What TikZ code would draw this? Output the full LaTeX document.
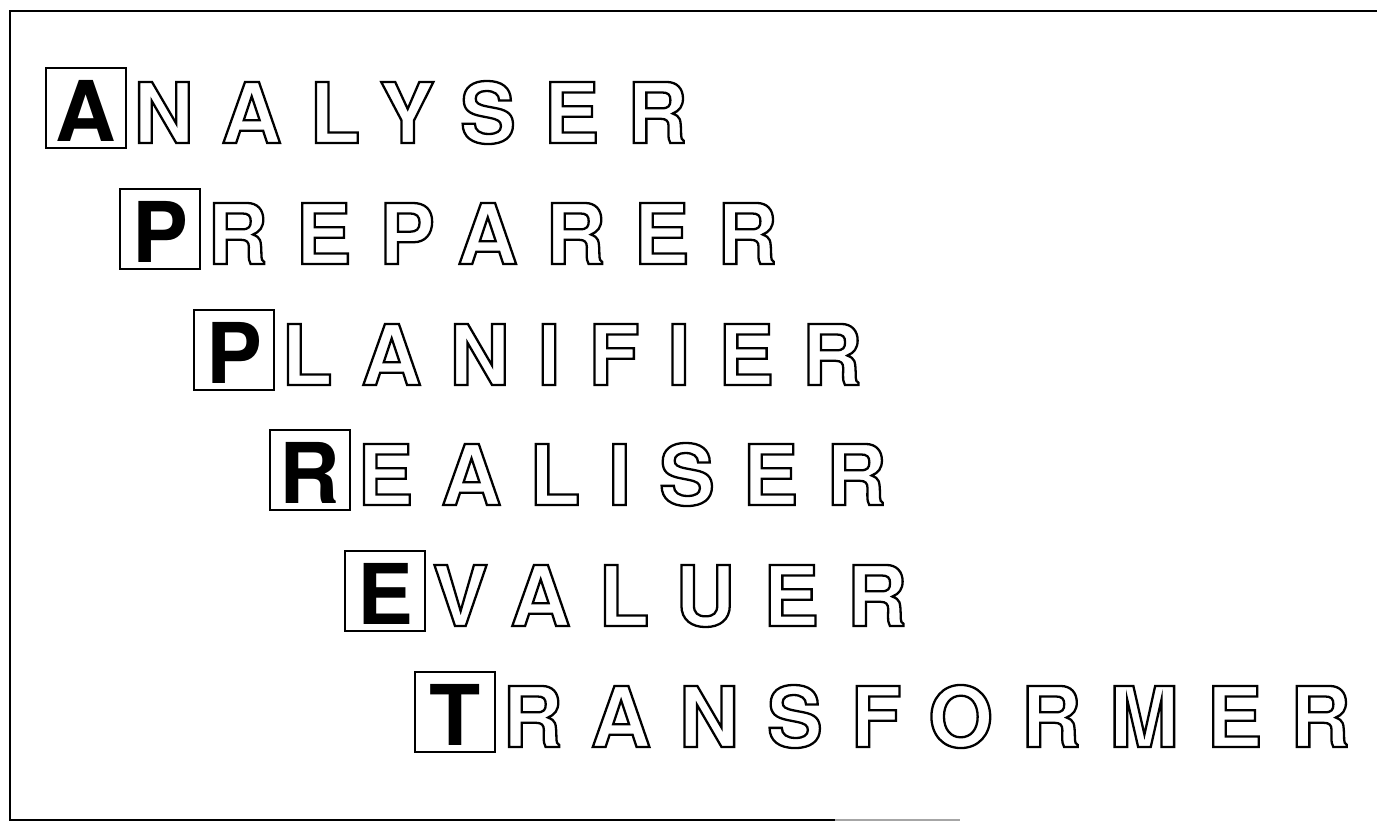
\documentclass[tikz,border=0pt]{standalone}
\usepackage{fontspec}
\setmainfont{TeX Gyre Heros}
\usetikzlibrary{calc, positioning}

% hollow (stroked) letters
\newcommand{\hollowtext}[1]{\special{pdf:literal direct 1 Tr 1.3 w}#1\special{pdf:literal direct 0 Tr}}

\begin{document}
\begin{tikzpicture}[x=0.02cm, y=-0.02cm,
    initial/.style={draw, line width=1.2pt, minimum size=1.6cm, inner sep=0pt,
      text height=1.44cm, text depth=0.08cm, font=\fontsize{47.7}{50}\selectfont\bfseries},
    word/.style={anchor=base west, inner sep=0pt,
      font=\fontsize{47.7}{50}\selectfont\bfseries\addfontfeature{LetterSpace=33}},
    frame/.style={line width=1.7pt}]
    \useasboundingbox (0,0) rectangle (1377,824);
    \draw[frame] (1377,11) -- (10,11) -- (10,820) -- (835,820);
    \draw[frame, black!35] (835,820) -- (960,820);

    \node[initial] (a)  at (86,108)  {A};
    \node[word] (analyser) at ($(a.south east)+(6,-6)$) {\hollowtext{NALYSER}};
    \node[initial] (p1) at (160,229) {P};
    \node[word] (preparer) at ($(p1.south east)+(6,-6)$) {\hollowtext{REPARER}};
    \node[initial] (p2) at (234,350) {P};
    \node[word] (planifier) at ($(p2.south east)+(6,-6)$) {\hollowtext{LANIFIER}};
    \node[initial] (r)  at (310,470) {R};
    \node[word] (realiser) at ($(r.south east)+(6,-6)$) {\hollowtext{EALISER}};
    \node[initial] (e)  at (385,591) {E};
    \node[word] (evaluer) at ($(e.south east)+(6,-6)$) {\hollowtext{VALUER}};
    \node[initial] (t)  at (455,712) {T};
    \node[word] (transformer) at ($(t.south east)+(6,-6)$) {\hollowtext{RANSFORMER}};
  \end{tikzpicture}
\end{document}
